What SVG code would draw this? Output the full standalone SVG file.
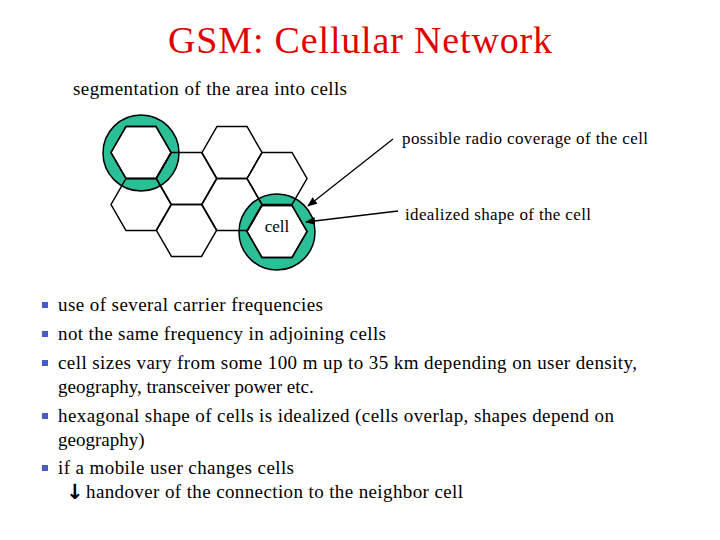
<svg xmlns="http://www.w3.org/2000/svg" width="720" height="540" viewBox="0 0 720 540" font-family="'Liberation Serif', 'Times New Roman', serif">
<style>
.hex{fill:none;stroke:#000;stroke-width:1.5}
.cellhex{fill:#fff;stroke:#000;stroke-width:1.5}
.ring{fill:#2bbf98;stroke:#000;stroke-width:1.5}
.bul{fill:#4a5bc4}
.conn{stroke:#000;stroke-width:1.3;fill:none;marker-end:url(#ah)}
</style>
<defs>
<marker id="ah" markerWidth="10" markerHeight="8" refX="9" refY="4" orient="auto" markerUnits="userSpaceOnUse"><path d="M0,0 L10,4 L0,8 z" fill="#000"/></marker>
<polygon id="hx" points="-30,0 -15,-26 15,-26 30,0 15,26 -15,26"/>
</defs>
<rect width="720" height="540" fill="#fff"/>
<text x="360" y="53" text-anchor="middle" font-family="Liberation Serif, serif" font-size="38" fill="#e00000" textLength="384">GSM: Cellular Network</text>
<text x="73" y="95" font-family="Liberation Serif, serif" font-size="19" textLength="274">segmentation of the area into cells</text>
<g id="circles">
<circle id="ring1" class="ring" cx="141" cy="153" r="38"/>
<circle id="ring2" class="ring" cx="277" cy="232" r="38"/>
</g>
<g id="hexes">
<use href="#hx" class="cellhex" x="141" y="152.5"/>
<use href="#hx" class="cellhex" x="277" y="231.5"/>
<use href="#hx" class="hex" x="141" y="152.5"/>
<use href="#hx" class="hex" x="186.5" y="178.5"/>
<use href="#hx" class="hex" x="232" y="152.5"/>
<use href="#hx" class="hex" x="277" y="178.5"/>
<use href="#hx" class="hex" x="141" y="204.5"/>
<use href="#hx" class="hex" x="186.5" y="230.5"/>
<use href="#hx" class="hex" x="232" y="204.5"/>
<use href="#hx" class="hex" x="277" y="231.5"/>
</g>
<g id="cell"><text x="277" y="232" text-anchor="middle" font-family="Liberation Serif, serif" font-size="17">cell</text></g>
<g id="connectors">
<line class="conn" x1="393" y1="139" x2="308" y2="206"/>
<line class="conn" x1="398" y1="211" x2="306" y2="222"/>
</g>
<g id="label-coverage"><text x="402" y="144" font-family="Liberation Serif, serif" font-size="17" textLength="246">possible radio coverage of the cell</text></g>
<g id="label-shape"><text x="405" y="220" font-family="Liberation Serif, serif" font-size="17" textLength="186">idealized shape of the cell</text></g>
<g id="bullets" font-family="Liberation Serif, serif" font-size="19">
<rect class="bul" x="42" y="302" width="6" height="6"/>
<rect class="bul" x="42" y="331" width="6" height="6"/>
<rect class="bul" x="42" y="360" width="6" height="6"/>
<rect class="bul" x="42" y="413" width="6" height="6"/>
<rect class="bul" x="42" y="465" width="6" height="6"/>
<text x="58" y="311" textLength="265">use of several carrier frequencies</text>
<text x="58" y="340" textLength="328">not the same frequency in adjoining cells</text>
<text x="58" y="369" textLength="579">cell sizes vary from some 100 m up to 35 km depending on user density,</text>
<text x="58" y="393">geography, transceiver power etc.</text>
<text x="58" y="422" textLength="556">hexagonal shape of cells is idealized (cells overlap, shapes depend on</text>
<text x="58" y="446">geography)</text>
<text x="58" y="474" textLength="236">if a mobile user changes cells</text>
<text x="66" y="499" font-family="DejaVu Sans, sans-serif" font-size="21" font-weight="bold">↓</text>
<text x="86" y="498" textLength="377">handover of the connection to the neighbor cell</text>
</g>
</svg>
